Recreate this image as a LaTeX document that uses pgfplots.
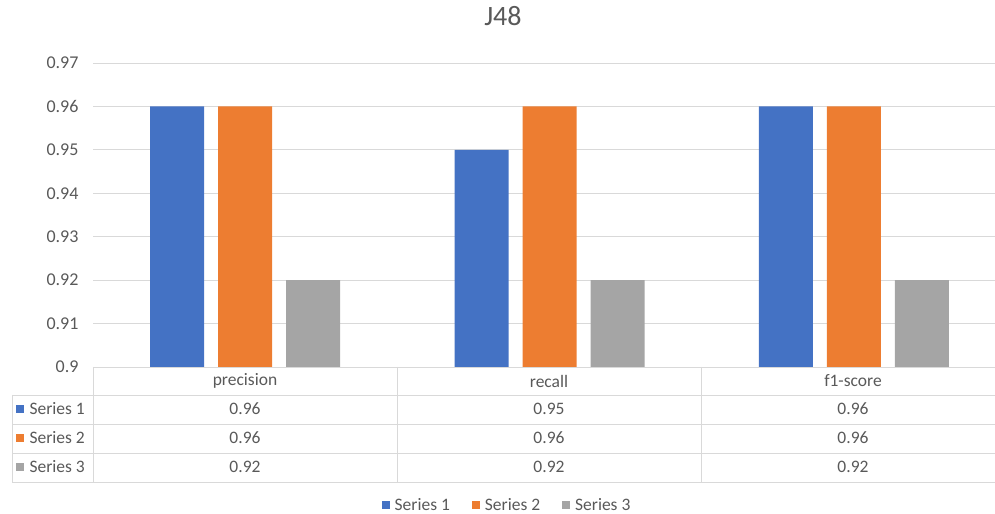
\documentclass[border=0pt]{standalone}
\usepackage{fontspec}
\setmainfont{Carlito}
\usepackage{pgfplots}
\pgfplotsset{compat=1.18}
\definecolor{sA}{HTML}{4472C4}
\definecolor{sB}{HTML}{ED7D31}
\definecolor{sC}{HTML}{A5A5A5}
\definecolor{txt}{HTML}{595959}
\definecolor{gridc}{HTML}{D9D9D9}
\begin{document}
\begin{tikzpicture}[x=1bp,y=1bp]
\path[use as bounding box] (0,0) rectangle (995,514);
\begin{axis}[
  at={(93bp,147bp)}, anchor=south west,
  scale only axis, width=913bp, height=304bp,
  xmin=-0.5, xmax=2.5, ymin=0.9, ymax=0.97,
  ybar=14bp, bar width=54bp,
  xtick=\empty,
  ytick={0.9,0.91,0.92,0.93,0.94,0.95,0.96,0.97},
  yticklabel style={font=\fontsize{18bp}{20bp}\selectfont, text=txt, xshift=-11bp},
  /pgf/number format/assume math mode=true,
  /pgf/number format/.cd, fixed, precision=2, /pgfplots/.cd,
  ymajorgrids, grid style={draw=gridc, line width=0.8bp},
  axis line style={draw=none}, major tick length=0pt,
  title={J48}, title style={font=\fontsize{28bp}{32bp}\selectfont, text=txt, at={(0.449,1)}, anchor=center, yshift=41bp},
  legend columns=3,
  legend style={at={(0.4535,-0.4539)}, anchor=center, draw=none, fill=none,
    font=\fontsize{17.5bp}{19bp}\selectfont, text=txt, inner sep=1bp,
    /tikz/every odd column/.append style={column sep=3bp},
    /tikz/every even column/.append style={column sep=20bp}},
  legend image code/.code={\fill[#1] (0bp,-4bp) rectangle (8bp,4bp);},
  clip=false,
]
\addplot[fill=sA, draw=none] coordinates {(0,0.96) (1,0.95) (2,0.96)};
\addplot[fill=sB, draw=none] coordinates {(0,0.96) (1,0.96) (2,0.96)};
\addplot[fill=sC, draw=none] coordinates {(0,0.92) (1,0.92) (2,0.92)};
\legend{Series 1, Series 2, Series 3}
\end{axis}
% data table
\begin{scope}[draw=gridc, line width=0.8bp]
\foreach \yy in {119,90,61,32} \draw (12,\yy) -- (1006,\yy);
\draw (12,119) -- (12,32);
\foreach \xx in {93,397,701,1006} \draw (\xx,147) -- (\xx,32);
\end{scope}
\begin{scope}[every node/.style={font=\fontsize{17.5bp}{19bp}\selectfont, text=txt}]
\node at (245,133) {precision};
\node at (549,133) {recall};
\node at (853,133) {f1-score};
\fill[sA] (16,101) rectangle (24,109);
\fill[sB] (16,72) rectangle (24,80);
\fill[sC] (16,43) rectangle (24,51);
\node[anchor=west] at (26,105) {Series 1};
\node[anchor=west] at (26,76) {Series 2};
\node[anchor=west] at (26,47) {Series 3};
\node at (245,105) {0.96}; \node at (549,105) {0.95}; \node at (853,105) {0.96};
\node at (245,76) {0.96}; \node at (549,76) {0.96}; \node at (853,76) {0.96};
\node at (245,47) {0.92}; \node at (549,47) {0.92}; \node at (853,47) {0.92};
\end{scope}
\end{tikzpicture}
\end{document}
